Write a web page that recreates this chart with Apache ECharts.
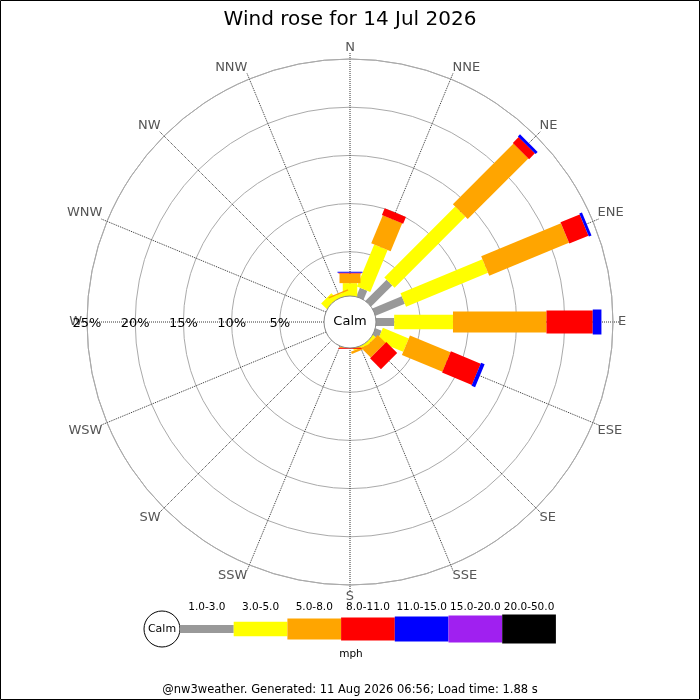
<!DOCTYPE html>
<html lang="en">
<head>
<meta charset="UTF-8">
<title>Wind rose</title>
<script src="https://cdn.jsdelivr.net/npm/echarts@6/dist/echarts.min.js"></script>
<style>
    html, body {margin: 0; padding: 0; background: #fff;}
    #main {width: 700px; height: 700px;}
</style>
</head>
<body>
<div id="main"></div>
<script>
    // compass sectors, clockwise from north
    var directions = ['N', 'NNE', 'NE', 'ENE', 'E', 'ESE', 'SE', 'SSE', 'S', 'SSW', 'SW', 'WSW', 'W', 'WNW', 'NW', 'NNW'];
    var speedBins = ['1.0-3.0', '3.0-5.0', '5.0-8.0', '8.0-11.0', '11.0-15.0', '15.0-20.0', '20.0-50.0'];
    var radiusTicks = [5, 10, 15, 20, 25];

    // % of time per direction, one array per speed bin (mph)
    var bin1to3   = [0.3, 1.4, 3.5, 3.7, 2.3, 1.1, 0.3, 0.3, 0.2, 0.2, 0.1, 0.1, 0.1, 0.2, 0.3, 0.3];
    var bin3to5   = [1.45, 4.7, 10.4, 9.2, 6.1, 2.9, 0.4, 0.3, 0.1, 0, 0, 0, 0, 0, 0.9, 0.5];
    var bin5to8   = [1.0, 3.15, 8.9, 8.95, 9.7, 4.55, 1.15, 0.25, 0.1, 0, 0, 0, 0, 0, 0, 0.15];
    var bin8to11  = [0.08, 0.75, 0.85, 2.15, 4.8, 3.35, 1.6, 0, 0.1, 0, 0, 0, 0, 0, 0, 0];
    var bin11to15 = [0.1, 0, 0.3, 0.3, 0.9, 0.4, 0, 0, 0, 0, 0, 0, 0, 0, 0, 0];
    var bin15to20 = [0, 0, 0, 0, 0, 0, 0, 0, 0, 0, 0, 0, 0, 0, 0, 0];
    var bin20to50 = [0, 0, 0, 0, 0, 0, 0, 0, 0, 0, 0, 0, 0, 0, 0, 0];

    var bins = [bin1to3, bin3to5, bin5to8, bin8to11, bin11to15, bin15to20, bin20to50];
    var colors = ['#999999', '#ffff00', '#ffa500', '#ff0000', '#0000ff', '#a020f0', '#000000'];
    var barWidths = [8, 14.5, 21, 23, 25, 27, 29];

    var cx = 350, cy = 322;

    // angle axis starts at west (so the % labels sit on the W spoke), clockwise
    function dirAngle(i) {
        return (i * 22.5 + 90) % 360;
    }

    function makeSeries(k) {
        var data = [];
        for (var i = 0; i < directions.length; i++) {
            var start = 0;
            for (var j = 0; j < k; j++) start += bins[j][i];
            data.push([start + bins[k][i], dirAngle(i), start]);
        }
        var w = barWidths[k];
        return {
            type: 'custom',
            name: speedBins[k],
            coordinateSystem: 'polar',
            encode: {radius: 0, angle: 1},
            data: data,
            silent: true,
            z: 2,
            renderItem: function (params, api) {
                var end = api.value(0), ang = api.value(1), start = api.value(2);
                if (end - start <= 0) return;
                var p0 = api.coord([start, ang]);
                var p1 = api.coord([end, ang]);
                var cs = params.coordSys;
                var dx = p1[0] - cs.cx, dy = p1[1] - cs.cy;
                var len = Math.sqrt(dx * dx + dy * dy);
                var nx = -dy / len * w / 2, ny = dx / len * w / 2;
                return {
                    type: 'polygon',
                    shape: {
                        points: [
                            [p0[0] + nx, p0[1] + ny],
                            [p1[0] + nx, p1[1] + ny],
                            [p1[0] - nx, p1[1] - ny],
                            [p0[0] - nx, p0[1] - ny]
                        ]
                    },
                    style: {fill: colors[k]}
                };
            }
        };
    }

    var series = [];
    for (var k = 0; k < bins.length; k++) series.push(makeSeries(k));

    var font = 'DejaVu Sans';
    var graphics = [];

    // calm circle in the middle, over the bar roots
    graphics.push({
        type: 'circle', z: 50, silent: true,
        shape: {cx: cx, cy: cy, r: 26},
        style: {fill: '#fff', stroke: '#888', lineWidth: 1}
    });
    graphics.push({
        type: 'text', z: 51, silent: true, x: cx, y: cy,
        style: {text: 'Calm', fontSize: 13, fontFamily: font, fill: '#000', align: 'center', verticalAlign: 'middle'}
    });

    // legend strip at the bottom
    var lx = 180, lw = 53.7, ly = 629;
    graphics.push({
        type: 'circle', z: 50, silent: true,
        shape: {cx: 162, cy: ly, r: 18},
        style: {fill: '#fff', stroke: '#000', lineWidth: 1}
    });
    graphics.push({
        type: 'text', z: 51, silent: true, x: 162, y: ly,
        style: {text: 'Calm', fontSize: 11, fontFamily: font, fill: '#000', align: 'center', verticalAlign: 'middle'}
    });
    for (var m = 0; m < speedBins.length; m++) {
        graphics.push({
            type: 'rect', z: 50, silent: true,
            shape: {x: lx + m * lw, y: ly - barWidths[m] / 2, width: lw, height: barWidths[m]},
            style: {fill: colors[m]}
        });
        graphics.push({
            type: 'text', z: 51, silent: true, x: lx + m * lw + lw / 2, y: 607,
            style: {text: speedBins[m], fontSize: 10.5, fontFamily: font, fill: '#000', align: 'center', verticalAlign: 'middle'}
        });
    }
    graphics.push({
        type: 'text', z: 51, silent: true, x: 351, y: 654,
        style: {text: 'mph', fontSize: 10.5, fontFamily: font, fill: '#000', align: 'center', verticalAlign: 'middle'}
    });
    graphics.push({
        type: 'text', z: 51, silent: true, x: 350, y: 690,
        style: {text: '@nw3weather. Generated: 11 Aug 2026 06:56; Load time: 1.88 s', fontSize: 11.5, fontFamily: font, fill: '#000', align: 'center', verticalAlign: 'middle'}
    });
    graphics.push({
        type: 'rect', z: 60, silent: true,
        shape: {x: 0.5, y: 0.5, width: 699, height: 699},
        style: {fill: 'none', stroke: '#000', lineWidth: 1}
    });

    var chart = echarts.init(document.getElementById('main'));
    chart.setOption({
        animation: false,
        backgroundColor: '#fff',
        textStyle: {fontFamily: font},
        title: {
            text: 'Wind rose for 14 Jul 2026',
            left: 'center',
            top: 5,
            textStyle: {fontSize: 20, fontWeight: 'normal', color: '#000', fontFamily: font}
        },
        polar: {center: [cx, cy], radius: [22, 263]},
        angleAxis: {
            type: 'value',
            min: 0,
            max: 360,
            interval: 22.5,
            startAngle: 180,
            clockwise: true,
            axisLine: {lineStyle: {color: '#aaaaaa', width: 1}},
            axisTick: {show: true, length: 6, lineStyle: {color: '#333', type: 'dotted'}},
            axisLabel: {
                margin: 5,
                color: '#555',
                fontSize: 13,
                align: 'center',
                verticalAlign: 'middle',
                formatter: function (v) {
                    var b = (v - 90 + 360) % 360;
                    return directions[Math.round(b / 22.5) % 16];
                }
            },
            splitLine: {show: true, lineStyle: {color: '#333', type: 'dotted', width: 1}}
        },
        radiusAxis: {
            type: 'value',
            min: 0,
            max: radiusTicks[radiusTicks.length - 1],
            interval: radiusTicks[0],
            axisLine: {show: false},
            axisTick: {show: false},
            axisLabel: {
                margin: 2,
                color: '#000',
                fontSize: 13,
                align: 'center',
                verticalAlign: 'middle',
                formatter: function (v) { return v ? v + '%' : ''; }
            },
            splitLine: {show: true, lineStyle: {color: '#aaaaaa', width: 1}}
        },
        series: series,
        graphic: graphics
    });
</script>
</body>
</html>
